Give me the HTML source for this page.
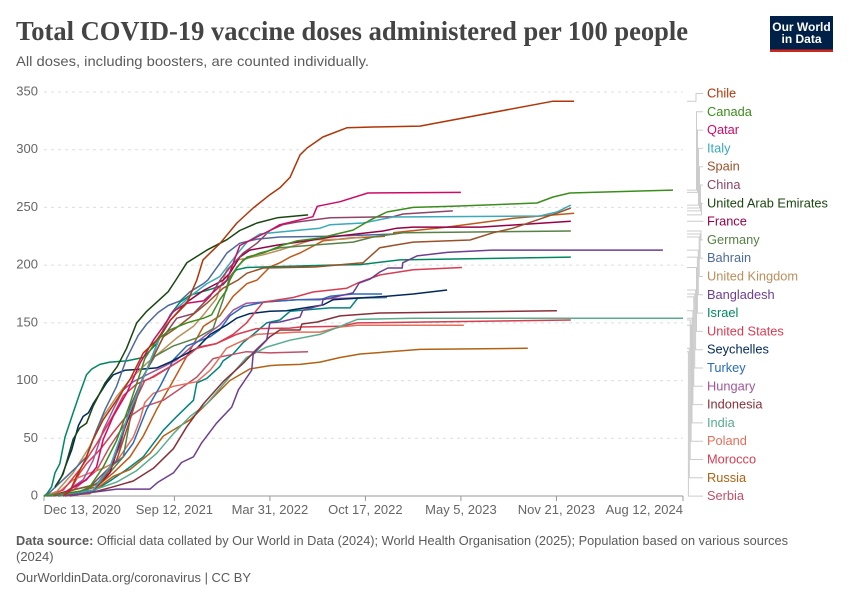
<!DOCTYPE html>
<html lang="en">
<head>
<meta charset="utf-8">
<title>Total COVID-19 vaccine doses administered per 100 people</title>
<style>
html,body{margin:0;padding:0;background:#fff;}
svg{display:block;font-family:"Liberation Sans",sans-serif;}
</style>
</head>
<body>
<svg id="chart" width="850" height="600" viewBox="0 0 850 600" xmlns="http://www.w3.org/2000/svg">
  <rect width="850" height="600" fill="#fff"/>
  <text x="16" y="40" font-family="'Liberation Serif',serif" font-weight="700" font-size="27" fill="#444" textLength="672" lengthAdjust="spacingAndGlyphs">Total COVID-19 vaccine doses administered per 100 people</text>
  <text x="16" y="66" font-size="14" fill="#5b5b5b" textLength="353" lengthAdjust="spacingAndGlyphs">All doses, including boosters, are counted individually.</text>
  <g>
    <rect x="770" y="16" width="63" height="36" fill="#002147"/>
    <rect x="770" y="49.5" width="63" height="2.5" fill="#ce261e"/>
    <text x="801.5" y="31" text-anchor="middle" font-size="12" font-weight="700" fill="#fff">Our World</text>
    <text x="801.5" y="43" text-anchor="middle" font-size="12" font-weight="700" fill="#fff">in Data</text>
  </g>
  <g id="grid"></g>
  <g id="xaxis"></g>
  <g id="yaxis"></g>
  <g id="lines"></g>
  <g id="connectors"></g>
  <g id="labels"></g>
  <text x="16" y="545" font-size="13" fill="#5b5b5b" textLength="772" lengthAdjust="spacingAndGlyphs"><tspan font-weight="700">Data source:</tspan> Official data collated by Our World in Data (2024); World Health Organisation (2025); Population based on various sources</text>
  <text x="16" y="561" font-size="13" fill="#5b5b5b">(2024)</text>
  <text x="16" y="582" font-size="13" fill="#5b5b5b" textLength="235" lengthAdjust="spacingAndGlyphs">OurWorldinData.org/coronavirus | CC BY</text>
</svg>
<script>
const yTickValues = [0, 50, 100, 150, 200, 250, 300, 350];
const xTickDays = [0, 273, 473, 673, 873, 1073, 1338];
const xTickLabels = ["Dec 13, 2020", "Sep 12, 2021", "Mar 31, 2022", "Oct 17, 2022", "May 5, 2023", "Nov 21, 2023", "Aug 12, 2024"];

const chileDays = [40,54,68,86,103,124,152,180,208,236,264,299,320,333,369,404,438,473,494,515,536,551,584,634,689,787,1066,1110];
const chileDoses = [0,4,17,31,49,66,83,101,124,135,152,167,187,204.5,219,236.5,249.5,261,267,276,295.5,301.5,311,319,319.7,320.5,342,342];
const canadaDays = [0,75,96,124,152,180,201,211,236,264,299,334,351,368,382,389,404,425,459,500,530,578,647,683,718,773,856,1032,1066,1101,1317];
const canadaDoses = [0,4,8,25,48,80,106,119,135,144,150,154,157,170,178,187,198.4,207,210.5,217.4,221,223.5,230.4,239,246,250,251,253.8,259,262.5,265];
const qatarDays = [20,47,89,110,124,145,173,201,229,250,271,299,334,361,383,410,473,494,563,572,620,678,873];
const qatarDoses = [0,4,14,25,49,69,89,115,135,147,160,167,169,179,187,217,230,235,242,251,255,262.5,263];
const italyDays = [10,103,138,173,201,243,264,306,341,368,406,425,452,494,578,599,668,731,1038,1074,1103];
const italyDoses = [0,5,25,66,95,138,157,173,184,190,210.5,220,227,228.7,232,235,236.5,241.7,242.6,246,252];
const spainDays = [10,117,152,180,208,250,278,306,341,375,406,425,459,567,668,703,735,773,892,940,982,1032,1074,1103];
const spainDoses = [0,11,31,66,103,138,146,155,167,180,187,193,197.5,198.4,202,215,217.4,220,221.8,228,232,239,245,249.5];
const chinaDays = [40,89,138,159,180,208,250,278,313,348,369,389,417,446,473,500,530,599,731,752,856];
const chinaDoses = [0,5,25,43,77,103,138,154,158,173,187,198,210.5,219,230,235,237.4,241,242,244.3,247];
const uaeDays = [23,40,61,75,89,103,128,153,173,194,215,239,260,276,299,341,383,410,446,488,553];
const uaeDoses = [8,19,49,59,63,78,98,112,128,150,160,169,177,187,202,213,222,230,236.5,241,243.5];
const franceDays = [14,103,138,166,201,243,264,299,334,375,389,410,431,488,563,599,710,739,773,914,1103];
const franceDoses = [0,5,20,55,95,138,152,168,178,187,193,207,213,217.4,221.8,224.4,229.6,232,233,233,238];
const germanyDays = [14,89,131,166,180,208,232,271,320,354,375,389,417,452,494,563,647,689,752,1103];
const germanyDoses = [0,5,17,34,66,104,121,130,137,145,170,190,204.5,210.5,215,217.4,220,224.4,228,229.6];
const bahrainDays = [0,9,40,68,89,110,128,152,173,197,215,239,260,285,306,334,343,369,383,410,446,494,599,735];
const bahrainDoses = [0,2,14,25,34,57,75,95,119,139,149,159,165,169,177,184,187,202,210.5,219,222.6,224.4,225,227];
const ukDays = [0,27,61,96,124,152,180,215,250,278,313,334,361,383,404,425,459,494,563,626,668];
const ukDoses = [0,4,20,43,69,86,101,115,127,137,147,157,171,196,204.5,206,209,213,222,222.6,224.4];
const bangladeshDays = [44,117,152,222,239,271,288,313,330,361,393,407,435,438,466,473,494,536,542,582,584,647,660,683,703,720,750,751,781,844,938,1296];
const bangladeshDoses = [0,4,6,6,12,20,29,34,46,63,77,92,109,123,135,150,150.7,155,161,165.5,170,176,184.5,188,194,197.5,197.5,202,208,211,213,213];
const israelDays = [0,6,16,23,33,44,61,75,89,100,117,138,173,208,236,264,285,306,348,375,403,424,599,662,745,1103];
const israelDoses = [0,2,8,20,28,51,72,89,105,110,114,116,117,120,132,157,168,174,179,183,196,198,200,200.5,204.5,207];
const usDays = [0,40,75,110,145,166,194,222,264,299,323,361,396,424,459,522,563,634,657,703,773,875];
const usDoses = [0,5,23,45,70,87,97,102,112,121,129,132,140,150,168,172,176.7,180,184.5,191.5,196,198];
const seychellesDays = [23,37,47,58,72,82,93,103,117,131,145,170,208,236,264,292,320,348,382,403,431,473,508,584,605,718,773,844];
const seychellesDoses = [7,17,28,40,61,69,72,80,89,98,105,109,110,111,116,122,128,140,148,154,158,160,160.5,165.5,170,173,175,178.5];
const turkeyDays = [20,47,110,138,166,187,215,243,271,299,348,368,389,417,459,529,578,599,647,708];
const turkeyDoses = [0,4,10,25,34,46,75,95,118,130,138,144,156,164,168,170,170,173,175,175];
const hungaryDays = [14,47,82,103,124,145,166,187,215,250,278,313,341,368,396,424,459,529,718];
const hungaryDoses = [0,4,14,31,57,75,92,99,105,112,118,131,140,148,161,167,168,170,172.5];
const indonesiaDays = [54,110,145,187,229,271,299,334,375,417,445,473,494,536,540,572,620,703,1074];
const indonesiaDoses = [0,4,8,13,24,41,60,80,99,115,127,138,143.8,143.8,149,150.7,156,158.5,160.5];
const indiaDays = [35,96,152,194,236,271,306,341,382,424,466,515,578,620,656,773,1338];
const indiaDoses = [0,4,12,22,37,54,69,80,100,120,129,135,140,147,153,154,154];
const polandDays = [10,33,61,96,124,152,187,201,211,229,271,320,348,361,382,403,445,529,578,620,656,879];
const polandDoses = [0,4,14,20,24,30,51,66,81,89,95,99,109,116,128,132,140,142,142,146.4,148,148];
const moroccoDays = [40,54,75,89,117,145,180,211,229,264,299,320,361,403,445,515,536,620,656,1103];
const moroccoDoses = [0,4,20,28,40,55,73,100,103,112,121,128,132,140,145,145.5,146.4,147,150,152.5];
const russiaDays = [5,96,145,180,222,250,278,306,341,389,431,473,494,536,578,620,662,787,1013];
const russiaDoses = [0,2,17,23,37,52,59,66,80,100,110,113,113.5,114,116,120,123,127,128];
const serbiaDays = [10,61,110,138,180,208,250,285,320,354,375,424,473,553];
const serbiaDoses = [0,5,22,43,69,77,83,93,103,119,121,125,124,125];
const orangeEarlyDays = [30,75,110,145,180,208,236,264,299,334,368,396,425,446,473,494,515,536,584,641,714];
const orangeEarlyDoses = [0,4,8,20,34,52,75,95,121,147,156,173,184,187,198.4,202,207,210.5,221,223.5,225];
const orangeLateDays = [731,844,982,1110];
const orangeLateDoses = [228,233,240.6,245];
const tealDays = [30,103,138,173,208,250,278,313,320,341,368,375,396,417,438,466,494,515,599,641,657,718];
const tealDoses = [0,4,13,23,34,57,69,83,98,102,112,117,123,133,140,150,152.5,160,163,163,171.5,172];

const labelledSeries = [
  {name:"Chile", days:chileDays, doses:chileDoses, color:"#B13507"},
  {name:"Canada", days:canadaDays, doses:canadaDoses, color:"#3B8E1D"},
  {name:"Qatar", days:qatarDays, doses:qatarDoses, color:"#CF0A66"},
  {name:"Italy", days:italyDays, doses:italyDoses, color:"#38AABA"},
  {name:"Spain", days:spainDays, doses:spainDoses, color:"#9A5129"},
  {name:"China", days:chinaDays, doses:chinaDoses, color:"#8C4569"},
  {name:"United Arab Emirates", days:uaeDays, doses:uaeDoses, color:"#18470F"},
  {name:"France", days:franceDays, doses:franceDoses, color:"#970046"},
  {name:"Germany", days:germanyDays, doses:germanyDoses, color:"#578145"},
  {name:"Bahrain", days:bahrainDays, doses:bahrainDoses, color:"#4C6A9C"},
  {name:"United Kingdom", days:ukDays, doses:ukDoses, color:"#BC8E5A"},
  {name:"Bangladesh", days:bangladeshDays, doses:bangladeshDoses, color:"#6D3E91"},
  {name:"Israel", days:israelDays, doses:israelDoses, color:"#00875E"},
  {name:"United States", days:usDays, doses:usDoses, color:"#D73C50"},
  {name:"Seychelles", days:seychellesDays, doses:seychellesDoses, color:"#00295B"},
  {name:"Turkey", days:turkeyDays, doses:turkeyDoses, color:"#286BBB"},
  {name:"Hungary", days:hungaryDays, doses:hungaryDoses, color:"#A2559C"},
  {name:"Indonesia", days:indonesiaDays, doses:indonesiaDoses, color:"#883039"},
  {name:"India", days:indiaDays, doses:indiaDoses, color:"#58AC8C"},
  {name:"Poland", days:polandDays, doses:polandDoses, color:"#E56E5A"},
  {name:"Morocco", days:moroccoDays, doses:moroccoDoses, color:"#D73C50"},
  {name:"Russia", days:russiaDays, doses:russiaDoses, color:"#B16214"},
  {name:"Serbia", days:serbiaDays, doses:serbiaDoses, color:"#C15065"}
];
const unlabelledSeries = [
  {name:"orange-early", days:orangeEarlyDays, doses:orangeEarlyDoses, color:"#C05917"},
  {name:"orange-late", days:orangeLateDays, doses:orangeLateDoses, color:"#C05917"},
  {name:"teal", days:tealDays, doses:tealDoses, color:"#00847E"}
];

const NS = "http://www.w3.org/2000/svg";
const X0 = 44, X1 = 683, XMAX = 1338, Y0 = 496, Y350 = 92;
function xScale(d){ return X0 + d / XMAX * (X1 - X0); }
function yScale(v){ return Y0 - v / 350 * (Y0 - Y350); }
function slug(s){ return s.toLowerCase().replace(/[^a-z0-9]+/g, "-"); }
function make(tag, parent){
  const el = document.createElementNS(NS, tag);
  parent.appendChild(el);
  return el;
}

const gridG = document.getElementById("grid");
const yG = document.getElementById("yaxis");
yTickValues.forEach(function(v){
  const t = make("text", yG);
  
  
  t.setAttribute("x", 38);
  t.setAttribute("y", yScale(v) + 3.5);
  t.setAttribute("text-anchor", "end");
  t.setAttribute("font-size", "13");
  t.setAttribute("fill", "#666");
  t.textContent = v;
  if (v === 0) return;
  const l = make("line", gridG);
  
  
  l.setAttribute("x1", X0);
  l.setAttribute("x2", X1);
  l.setAttribute("y1", yScale(v));
  l.setAttribute("y2", yScale(v));
  l.setAttribute("stroke", "#ddd");
  l.setAttribute("stroke-dasharray", "3,4");
});

const xG = document.getElementById("xaxis");
const axisLine = make("line", xG);


axisLine.setAttribute("x1", X0);
axisLine.setAttribute("x2", X1);
axisLine.setAttribute("y1", Y0);
axisLine.setAttribute("y2", Y0);
axisLine.setAttribute("stroke", "#999");
xTickDays.forEach(function(d, i){
  const tk = make("line", xG);
  
  
  tk.setAttribute("x1", xScale(d));
  tk.setAttribute("x2", xScale(d));
  tk.setAttribute("y1", Y0);
  tk.setAttribute("y2", Y0 + 5);
  tk.setAttribute("stroke", "#999");
  const t = make("text", xG);
  
  
  t.setAttribute("x", xScale(d) + (i === 0 ? -0.5 : 0));
  t.setAttribute("y", 514);
  t.setAttribute("font-size", "13");
  t.setAttribute("fill", "#666");
  t.setAttribute("text-anchor", i === 0 ? "start" : (i === xTickDays.length - 1 ? "end" : "middle"));
  t.textContent = xTickLabels[i];
});

const linesG = document.getElementById("lines");
function drawLine(s){
  const p = make("polyline", linesG);
  
  
  p.setAttribute("points", s.days.map(function(d, i){
    return xScale(d).toFixed(1) + "," + yScale(s.doses[i]).toFixed(1);
  }).join(" "));
  p.setAttribute("fill", "none");
  p.setAttribute("stroke", s.color);
  p.setAttribute("stroke-width", "1.5");
  p.setAttribute("stroke-linejoin", "round");
}
unlabelledSeries.forEach(drawLine);
labelledSeries.slice().reverse().forEach(drawLine);

const connG = document.getElementById("connectors");
const labelG = document.getElementById("labels");
labelledSeries.forEach(function(s, i){
  const ly = 93.5 + i * 18.3;
  const sy = yScale(s.doses[s.doses.length - 1]);
  let vx;
  if (i === 0) vx = 696;
  else if (i <= 6) vx = 696.5 + (i - 1) * 1;
  else if (i === 7) vx = 703;
  else vx = 701 - (i - 8) * 0.9;
  const c = make("polyline", connG);
  
  
  c.setAttribute("points", "687," + sy.toFixed(1) + " " + vx + "," + sy.toFixed(1) + " " + vx + "," + ly.toFixed(1) + " 703," + ly.toFixed(1));
  c.setAttribute("fill", "none");
  c.setAttribute("stroke", "#ccc");
  c.setAttribute("stroke-width", "1");
  const t = make("text", labelG);
  
  
  t.setAttribute("x", 707);
  t.setAttribute("y", ly + 4);
  t.setAttribute("font-size", "12.8");
  t.setAttribute("fill", s.color);
  t.textContent = s.name;
});
</script>
</body>
</html>
